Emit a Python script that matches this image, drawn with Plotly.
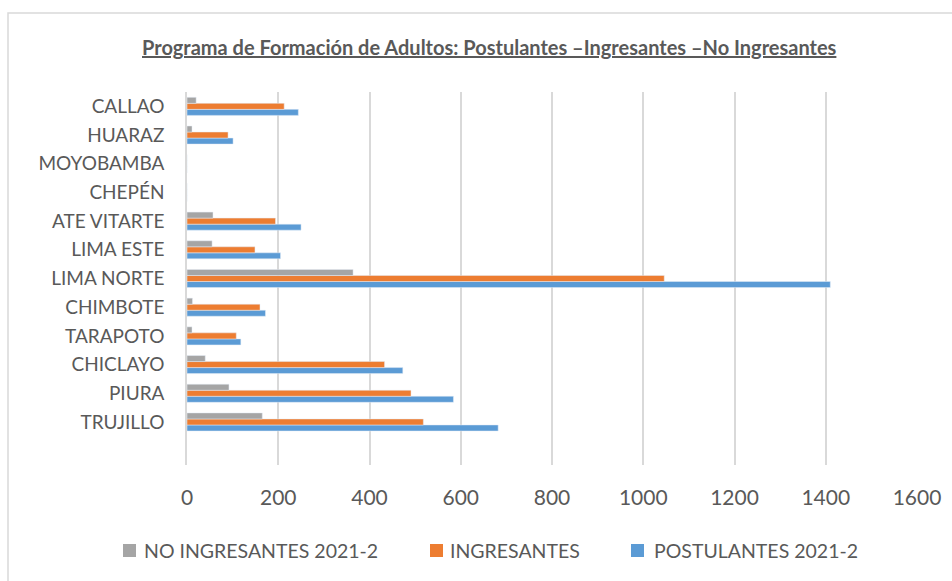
import plotly.graph_objects as go

# Sedes (bottom to top as drawn)
sedes = ["TRUJILLO", "PIURA", "CHICLAYO", "TARAPOTO", "CHIMBOTE", "LIMA NORTE",
         "LIMA ESTE", "ATE VITARTE", "CHEPÉN", "MOYOBAMBA", "HUARAZ", "CALLAO"]

postulantes = [682, 584, 473, 118, 172, 1410, 205, 250, 0, 0, 101, 244]
ingresantes = [518, 491, 433, 108, 160, 1046, 149, 194, 0, 0, 90, 213]
no_ingresantes = [165, 92, 40, 11, 12, 364, 55, 57, 0, 0, 11, 20]

series_names = ["POSTULANTES 2021-2", "INGRESANTES", "NO INGRESANTES 2021-2"]
series_colors = ["#5B9BD5", "#ED7D31", "#A5A5A5"]

x_ticks = [0, 200, 400, 600, 800, 1000, 1200, 1400, 1600]

W, H = 952, 581
L, R, T, B = 187, 35, 92, 116
FONT = "Lato, Roboto, sans-serif"
TXT = "#595959"
pw, ph = W - L - R, H - T - B


def px_x(x):
    return (x - L) / pw


def px_y(y):
    return 1 - (y - T) / ph


fig = go.Figure()
for vals, name, color in zip([postulantes, ingresantes, no_ingresantes],
                             series_names, series_colors):
    fig.add_trace(go.Bar(y=sedes, x=vals, orientation="h", name=name,
                         marker_color=color, showlegend=False))

# outer chart frame
fig.add_shape(type="rect", xref="paper", yref="paper",
              x0=px_x(8), x1=px_x(W + 20), y0=px_y(H + 20), y1=px_y(13),
              line=dict(color="#D9D9D9", width=1.5), layer="below")

fig.add_annotation(
    text="<b><u>Programa de Formación de Adultos: Postulantes –Ingresantes –No Ingresantes</u></b>",
    xref="paper", yref="paper", x=px_x(489), y=px_y(47),
    showarrow=False, xanchor="center", yanchor="middle",
    font=dict(family=FONT, size=20, color=TXT))

# legend row: swatch + label for each series (left to right)
legend_items = [(2, 123, 142), (1, 430, 448), (0, 631, 652)]
for idx, sx, tx in legend_items:
    fig.add_shape(type="rect", xref="paper", yref="paper",
                  x0=px_x(sx), x1=px_x(sx + 13), y0=px_y(557), y1=px_y(544),
                  fillcolor=series_colors[idx], line=dict(width=0))
    fig.add_annotation(text=series_names[idx], xref="paper", yref="paper",
                       x=px_x(tx), y=px_y(550), xanchor="left", yanchor="middle",
                       showarrow=False, font=dict(family=FONT, size=19.5, color=TXT))

fig.update_layout(
    width=W, height=H,
    margin=dict(l=L, r=R, t=T, b=B),
    paper_bgcolor="white", plot_bgcolor="white",
    barmode="group", bargap=0.37, bargroupgap=0,
    font=dict(family=FONT, size=19, color=TXT),
    showlegend=False,
    xaxis=dict(range=[0, 1600], tickvals=x_ticks, showgrid=True,
               gridcolor="#D9D9D9", gridwidth=1.5, zeroline=False,
               showline=False, ticks="", tickfont=dict(size=21),
               ticklabelstandoff=18),
    yaxis=dict(range=[-1.5, 11.5], showgrid=False, zeroline=False,
               showline=True, linecolor="#D9D9D9", linewidth=1.5,
               ticks="", tickfont=dict(size=19), ticklabelstandoff=17),
)

fig.write_html("out.html")
